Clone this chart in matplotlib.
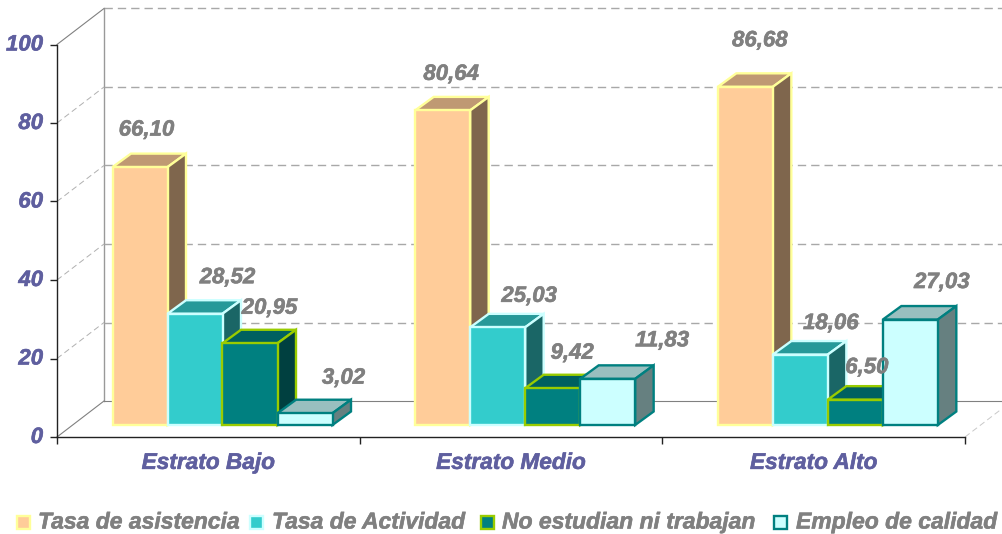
import matplotlib
matplotlib.use('Agg')
from matplotlib import pyplot as plt
from matplotlib import patheffects
from matplotlib.patches import Polygon, Rectangle
from matplotlib.transforms import ScaledTranslation

categories = ['Estrato Bajo', 'Estrato Medio', 'Estrato Alto']
series_names = ['Tasa de asistencia', 'Tasa de Actividad',
                'No estudian ni trabajan', 'Empleo de calidad']
asistencia = [66.10, 80.64, 86.68]
actividad = [28.52, 25.03, 18.06]
no_estudian = [20.95, 9.42, 6.50]
empleo = [3.02, 11.83, 27.03]
y_ticks = [0, 20, 40, 60, 80, 100]

# face, edge, top, side
STYLES = [
    ('#FFCC99', '#FFFF99', '#BF9973', '#7F664D'),
    ('#33CCCC', '#CCFFFF', '#269999', '#1A6666'),
    ('#008080', '#99CC00', '#006060', '#004040'),
    ('#CCFFFF', '#008080', '#99BFBF', '#668080'),
]
# label offsets from the bar's top left corner, in pixels, per series and group
LABEL_OFFSETS = [
    [(34, 37), (36, 36), (42, 46)],
    [(60, 36), (59, 31), (58, 31)],
    [(47, 35), (47, 35), (39, 32)],
    [(66, 35), (82, 38), (59, 37)],
]
TEXT_BLUE = '#5F5F9F'
TEXT_GREY = '#808080'
FONT = 'Liberation Sans'
HEAVY_BLUE = [patheffects.withStroke(linewidth=0.4, foreground=TEXT_BLUE)]
HEAVY_GREY = [patheffects.withStroke(linewidth=0.4, foreground=TEXT_GREY)]

W, H = 1002, 534
PX_X = 3 / 908.0
PX_Y = 100 / 392.5
WALL_DX, WALL_DY = 47 * PX_X, 36 * PX_Y
DEPTH_X, DEPTH_Y = 18.5 * PX_X, 13.5 * PX_Y
LIFT_X, LIFT_Y = 15.5 * PX_X, 12 * PX_Y
GAP = 40 * PX_X
BAR_W = 55 * PX_X
BAR_SCALE = 0.994
DASH = (6, 3.6)


def draw_bar(ax, x, val, style, z):
    face, edge, top_c, side_c = style
    h = val * BAR_SCALE
    y0, y1 = LIFT_Y, LIFT_Y + h
    ax.bar(x, h, BAR_W, bottom=y0, align='edge', color=face, edgecolor=edge,
           linewidth=1.7, zorder=z + 0.2, clip_on=False)
    top = [(x, y1), (x + BAR_W, y1), (x + BAR_W + DEPTH_X, y1 + DEPTH_Y), (x + DEPTH_X, y1 + DEPTH_Y)]
    side = [(x + BAR_W, y0), (x + BAR_W + DEPTH_X, y0 + DEPTH_Y),
            (x + BAR_W + DEPTH_X, y1 + DEPTH_Y), (x + BAR_W, y1)]
    for pts, c in ((top, top_c), (side, side_c)):
        ax.add_patch(Polygon(pts, closed=True, facecolor=c, edgecolor=edge,
                             linewidth=1.7, zorder=z, clip_on=False))


fig = plt.figure(figsize=(W / 100.0, H / 100.0), dpi=100)
ax = fig.add_axes([57.0 / W, (H - 437.0) / H, 908.0 / W, 392.5 / H])
ax.set_xlim(0, 3)
ax.set_ylim(0, 100)
for s in ('top', 'right'):
    ax.spines[s].set_visible(False)
for s in ('left', 'bottom'):
    ax.spines[s].set_color('#222222')
    ax.spines[s].set_linewidth(1.0)
    ax.spines[s].set_zorder(1)
ax.patch.set_alpha(0)

# walls
x_end = (W - 57) * PX_X
ax.plot([WALL_DX, WALL_DX], [WALL_DY, 100 + WALL_DY], color='#999999', lw=1.0, clip_on=False, zorder=0)
for t in y_ticks:
    if t == 0:
        ax.plot([WALL_DX, x_end], [t + WALL_DY, t + WALL_DY], color='#808080', lw=0.8, clip_on=False, zorder=0)
    else:
        ax.plot([WALL_DX, x_end], [t + WALL_DY, t + WALL_DY], color='#A8A8A8', lw=1.0,
                dashes=DASH, clip_on=False, zorder=0)
    if t in (0, 100):
        ax.plot([0, WALL_DX], [t, t + WALL_DY], color='#808080', lw=0.8, clip_on=False, zorder=0)
    else:
        ax.plot([0, WALL_DX], [t, t + WALL_DY], color='#B0B0B0', lw=0.7,
                dashes=DASH, clip_on=False, zorder=0)
ax.plot([3, x_end], [0, (W - 965) * PX_X / WALL_DX * WALL_DY], color='#C8C8C8', lw=0.7,
        dashes=DASH, clip_on=False, zorder=0)

# bars, left to right so that each one covers its neighbour's side
all_series = [asistencia, actividad, no_estudian, empleo]
z = 2
for g in range(len(categories)):
    for s, values in enumerate(all_series):
        x = g + GAP + LIFT_X + s * BAR_W
        draw_bar(ax, x, values[g], STYLES[s], z)
        z += 1
        ox, oy = LABEL_OFFSETS[s][g]
        ax.annotate(('%.2f' % values[g]).replace('.', ','), (x, LIFT_Y + values[g] * BAR_SCALE),
                    xytext=(ox, oy), textcoords='offset pixels', ha='center', va='center',
                    color=TEXT_GREY, family=FONT, weight='bold', style='italic',
                    fontsize=16, zorder=100, annotation_clip=False, path_effects=HEAVY_GREY)

ax.set_yticks(y_ticks)
ax.set_yticklabels([str(t) for t in y_ticks], family=FONT, weight='bold', style='italic',
                   fontsize=16, color=TEXT_BLUE, path_effects=HEAVY_BLUE)
ax.tick_params(axis='y', length=5, width=1, color='#222222', pad=5)
shift_up = ScaledTranslation(0, 2 / 100.0, fig.dpi_scale_trans)
for lab in ax.get_yticklabels():
    lab.set_transform(lab.get_transform() + shift_up)
ax.set_xticks([0, 1, 2, 3])
ax.set_xticklabels([])
ax.tick_params(axis='x', which='major', length=5, width=1, color='#222222')
ax.set_xticks([0.5, 1.5, 2.5], minor=True)
ax.set_xticklabels(categories, minor=True, family=FONT, weight='bold', style='italic',
                   fontsize=16.3, color=TEXT_BLUE, path_effects=HEAVY_BLUE)
ax.tick_params(axis='x', which='minor', length=0, pad=10)

# legend
swatch_x = [16.5, 250, 481, 774]
text_x = [38, 272, 502, 796]
for s, name in enumerate(series_names):
    fig.add_artist(Rectangle((swatch_x[s] / W, (H - 529.0) / H), 13.0 / W, 13.0 / H,
                             facecolor=STYLES[s][0], edgecolor=STYLES[s][1], linewidth=1.7,
                             transform=fig.transFigure))
    fig.text(text_x[s] / W, (H - 522.0) / H, name, family=FONT, weight='bold', style='italic',
             fontsize=16.5, color=TEXT_GREY, va='center', ha='left', path_effects=HEAVY_GREY)

fig.savefig('out.png', dpi=100)
